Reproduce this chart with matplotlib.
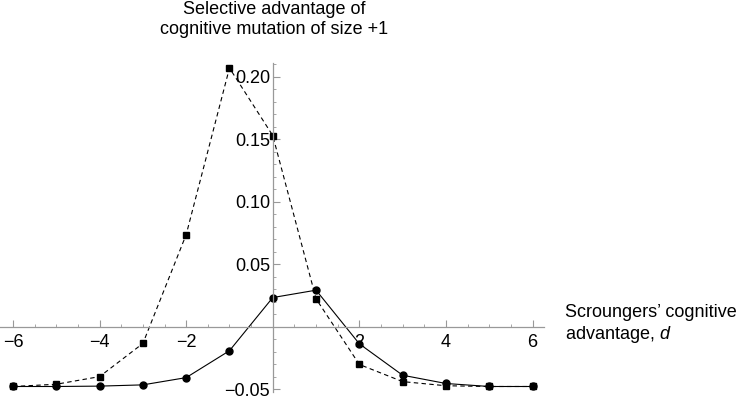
import matplotlib
matplotlib.use("Agg")
import matplotlib.pyplot as plt
from matplotlib.ticker import MultipleLocator, FixedLocator

plt.rcParams["font.family"] = ["Liberation Sans", "DejaVu Sans"]
plt.rcParams["mathtext.fontset"] = "custom"
plt.rcParams["mathtext.it"] = "Liberation Sans:italic"
plt.rcParams["mathtext.rm"] = "Liberation Sans"

# data
d_values = [-6, -5, -4, -3, -2, -1, 0, 1, 2, 3, 4, 5, 6]
squares = [-0.0476, -0.0458, -0.0397, -0.0132, 0.0738, 0.207, 0.153,
           0.0225, -0.030, -0.0437, -0.047, -0.0476, -0.0476]
circles = [-0.0476, -0.0476, -0.0473, -0.0463, -0.0405, -0.019, 0.0235,
           0.0294, -0.0135, -0.0386, -0.0452, -0.0476, -0.0476]
x_ticks = [-6, -4, -2, 2, 4, 6]
y_ticks = [-0.05, 0.05, 0.10, 0.15, 0.20]

fs = 13

fig = plt.figure(figsize=(7.48, 4), dpi=100)
ax = fig.add_axes([0.0, 0.02, 0.727, 0.8225])

ax.plot(d_values, squares, color="black", linestyle=(0, (4, 3)), linewidth=0.8,
        marker="s", markersize=4, clip_on=False)
ax.plot(d_values, circles, color="black", linestyle="-", linewidth=0.8,
        marker="o", markersize=5, clip_on=False)

ax.set_xlim(-6.3, 6.26)
ax.set_ylim(-0.052, 0.211)

# Mathematica-style axes through the origin
ax.spines["left"].set_position(("data", 0))
ax.spines["bottom"].set_position(("data", 0))
ax.spines["top"].set_visible(False)
ax.spines["right"].set_visible(False)
for s in ("left", "bottom"):
    ax.spines[s].set_color("#999999")
    ax.spines[s].set_linewidth(0.9)

ax.xaxis.set_major_locator(FixedLocator(x_ticks))
ax.xaxis.set_minor_locator(MultipleLocator(0.5))
ax.yaxis.set_major_locator(FixedLocator(y_ticks))
ax.yaxis.set_minor_locator(MultipleLocator(0.01))
ax.set_xticklabels([str(t).replace("-", "\u2212") for t in x_ticks])
ax.set_yticklabels([f"{t:.2f}".replace("-", "\u2212") for t in y_ticks])

ax.tick_params(which="both", direction="in", color="#999999", labelsize=fs)
ax.tick_params(which="major", length=5, width=0.8)
ax.tick_params(which="minor", length=2.5, width=0.6)
ax.tick_params(axis="x", pad=5)
ax.tick_params(axis="y", pad=2)

fig.text(274 / 748, 1 - 1 / 400, "Selective advantage of\ncognitive mutation of size +1",
         ha="center", va="top", fontsize=fs, linespacing=1.2)
fig.text(565 / 748, 1 - 304 / 400, "Scroungers\u2019 cognitive\nadvantage, $d$",
         ha="left", va="top", fontsize=fs, linespacing=1.2)

fig.savefig("out.png", dpi=100)
